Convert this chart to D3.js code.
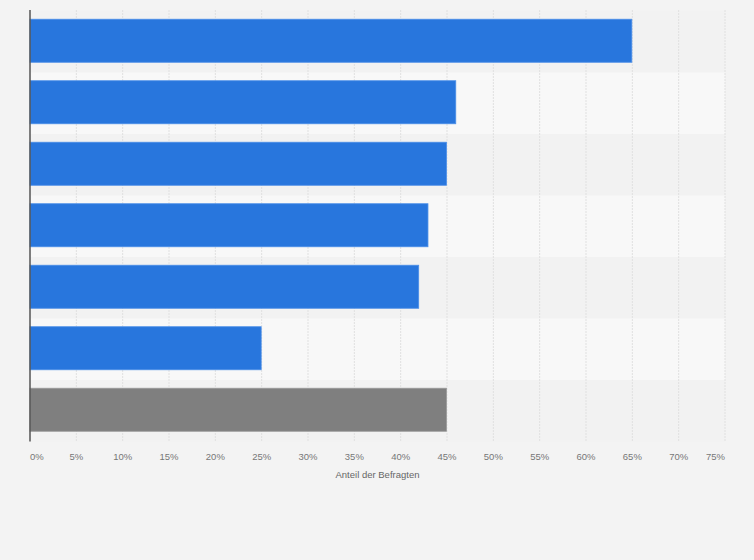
<!DOCTYPE html>
<html>
<head>
<meta charset="utf-8">
<script src="https://cdn.jsdelivr.net/npm/d3@7"></script>
<style>
  html, body { margin: 0; padding: 0; background: #f3f3f3; }
  svg { display: block; font-family: "Liberation Sans", Arial, sans-serif; }
</style>
</head>
<body>
<div id="chart"></div>
<script>
// values (percent of respondents)
const categories = ["A", "B", "C", "D", "E", "F", "G"];
const shares = [65, 46, 45, 43, 42, 25, 45];
const barColors = ["#2876dd", "#2876dd", "#2876dd", "#2876dd", "#2876dd", "#2876dd", "#7f7f7f"];
const xTicks = [0, 5, 10, 15, 20, 25, 30, 35, 40, 45, 50, 55, 60, 65, 70, 75];
const axisTitle = "Anteil der Befragten";

const W = 754, H = 560;
const margin = { top: 11, right: 29, bottom: 118.5, left: 30 },
  width = W - margin.left - margin.right,
  height = H - margin.top - margin.bottom;

const svg = d3.select("#chart")
  .append("svg")
  .attr("width", W)
  .attr("height", H);

svg.append("rect").attr("width", W).attr("height", H).attr("fill", "#f3f3f3");

const g = svg.append("g")
  .attr("transform", "translate(" + margin.left + "," + margin.top + ")");

const x = d3.scaleLinear().domain([0, 75]).range([0, width]);
const y = d3.scaleBand().domain(categories).range([0, height]).paddingInner(0.3).paddingOuter(0.15);

// alternating row stripes
const step = y.step();
g.selectAll(".stripe")
  .data(categories)
  .enter().append("rect")
  .attr("class", "stripe")
  .attr("x", 0)
  .attr("y", (d, i) => i * step)
  .attr("width", width)
  .attr("height", step)
  .attr("fill", (d, i) => i % 2 ? "#f8f8f8" : "#f2f2f2");

// vertical grid lines
g.selectAll(".grid")
  .data(xTicks.slice(1))
  .enter().append("line")
  .attr("class", "grid")
  .attr("x1", d => x(d)).attr("x2", d => x(d))
  .attr("y1", -1).attr("y2", height)
  .attr("stroke", "#e0e0e0")
  .attr("stroke-width", 1)
  .attr("stroke-dasharray", "2,1");

// bars
g.selectAll(".bar")
  .data(shares)
  .enter().append("rect")
  .attr("class", "bar")
  .attr("x", 0)
  .attr("y", (d, i) => y(categories[i]) - 1)
  .attr("width", d => x(d) - 0.5)
  .attr("height", y.bandwidth())
  .attr("fill", (d, i) => barColors[i])
  .attr("stroke", (d, i) => i === 6 ? "#9a9a9a" : "#4c8fe8")
  .attr("stroke-width", 0.8);

// left axis line
g.append("line")
  .attr("x1", 0).attr("x2", 0)
  .attr("y1", -1).attr("y2", height)
  .attr("stroke", "#555")
  .attr("stroke-width", 1.5);

// x tick labels
g.selectAll(".tick-label")
  .data(xTicks)
  .enter().append("text")
  .attr("class", "tick-label")
  .attr("x", d => x(d))
  .attr("y", height + 18)
  .attr("text-anchor", (d, i) => i === 0 ? "start" : (i === xTicks.length - 1 ? "end" : "middle"))
  .attr("fill", "#777")
  .style("font-size", "9.5px")
  .text(d => d + "%");

// axis title
g.append("text")
  .attr("x", width / 2)
  .attr("y", height + 36)
  .attr("text-anchor", "middle")
  .attr("fill", "#666")
  .style("font-size", "9.5px")
  .text(axisTitle);
</script>
</body>
</html>
